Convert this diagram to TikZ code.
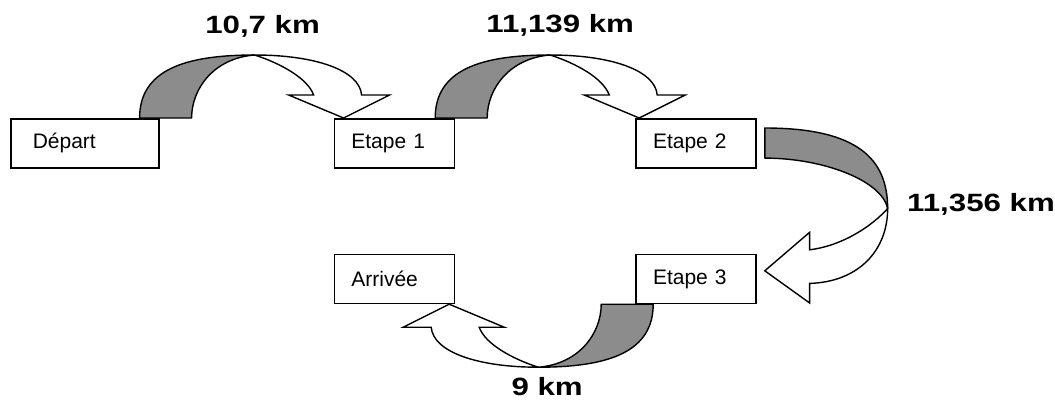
\documentclass[tikz,border=0pt]{standalone}
\usepackage{fontspec}
\setmainfont{Liberation Sans}
\newfontfamily\kmfont{Liberation Sans}[FakeStretch=1.25]
\usetikzlibrary{positioning}
\tikzset{
  stage/.style={draw, line width=1.6pt, minimum height=49pt, text width=86pt,
    inner xsep=17pt, align=left, font=\fontsize{21}{24}\selectfont},
  kmlabel/.style={font=\kmfont\bfseries\fontsize{25}{28}\selectfont, anchor=base},
  pics/curved arrow/.style={code={
    % back of the band (shaded), #1 = width of the band at its foot
    \fill[black!45, draw=black, line width=1.4pt, line join=round]
      (0,0) .. controls (0,-48) and (45,-63) .. (115,-63)
      .. controls (75,-60) and (#1,-30) .. (#1,0) -- cycle;
    % front of the band with the head
    \draw[fill=white, line width=1.4pt]
      (115,-63) .. controls (175,-63) and (220,-48) .. (222,-23)
      -- (250,-23) -- (204,0) -- (149,-23) -- (174,-23)
      .. controls (168,-40) and (140,-55) .. (115,-63) -- cycle;
    \coordinate (-top) at (115,-63);
  }},
  pics/curved arrow/.default=52
}
\begin{document}
\begin{tikzpicture}[x=1pt, y=-1pt]
\useasboundingbox (0,0) rectangle (1055,402);
% stages
\node[stage, text width=104pt, inner xsep=22pt, anchor=north west] (dep) at (10,118) {Départ};
\node[stage, right=174pt of dep] (e1) {Etape 1};
\node[stage, right=180pt of e1] (e2) {Etape 2};
\node[stage, below=85pt of e2] (e3) {Etape 3};
\node[stage, left=180pt of e3] (arr) {Arrivée};
% curved arrows between the stages
\pic (a1) at ([shift={(-20,0)}]dep.north east) {curved arrow};
\pic (a2) at ([shift={(-20,0)}]e1.north east) {curved arrow};
\pic[rotate=-90, xscale=.7, yscale=1.95] (a3) at ([shift={(8,10)}]e2.north east) {curved arrow=43};
\pic[rotate=180] (a4) at ([shift={(18,0)}]e3.south west) {curved arrow};
% distances
\node[kmlabel] at ([shift={(8,-22)}]a1-top) {10,7 km};
\node[kmlabel] at ([shift={(10,-23)}]a2-top) {11,139 km};
\node[kmlabel, anchor=base west] at ([shift={(16,3)}]a3-top) {11,356 km};
\node[kmlabel] at ([shift={(9,28)}]a4-top) {9 km};
\end{tikzpicture}
\end{document}
